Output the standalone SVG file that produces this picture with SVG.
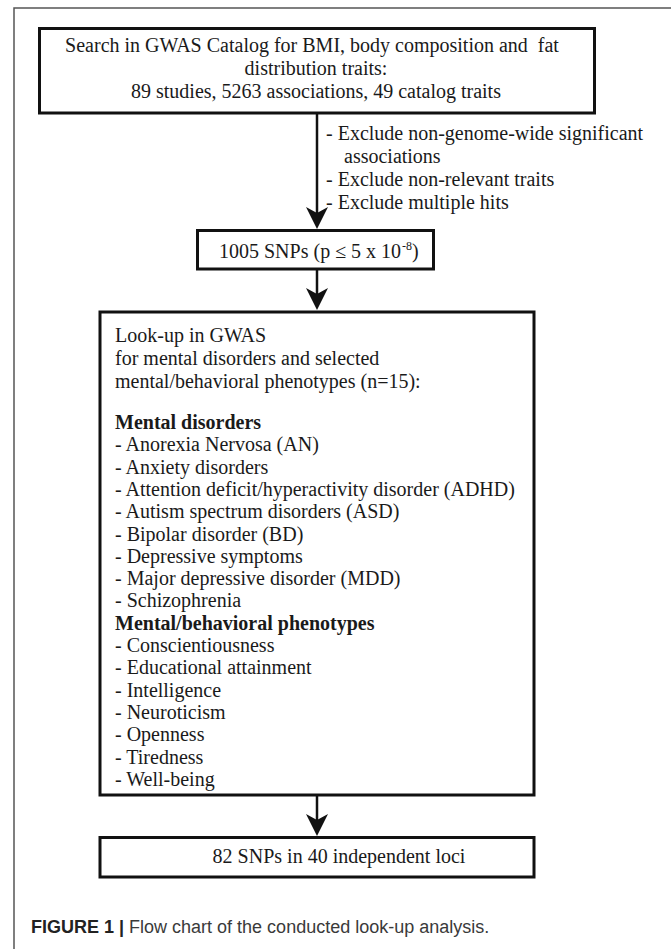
<svg xmlns="http://www.w3.org/2000/svg" width="671" height="949" viewBox="0 0 671 949">
<style>
.box{fill:#fff;stroke:#111;stroke-width:3}
.t{font-family:"Liberation Serif","Times New Roman",serif;font-size:20px;fill:#1a1a1a}
.sup{font-size:12px}
.c{text-anchor:middle}
.b{font-weight:bold}
.line{stroke:#111;stroke-width:2.5;fill:none}
.cap{font-family:"Liberation Sans",Arial,sans-serif;font-size:18px;fill:#3a3a3a}
</style>
<defs>
<path id="ah" d="M0,0 L-11,-22 L0,-16 L11,-22 Z" fill="#111"/>
</defs>
<rect x="0" y="0" width="671" height="949" fill="#fff"/>
<path d="M14,949 V8 H671" fill="none" stroke="#555" stroke-width="1.5"/>
<g id="connectors">
<line class="line" x1="317" y1="113" x2="317" y2="215"/>
<use href="#ah" x="317" y="229"/>
<line class="line" x1="317" y1="269" x2="317" y2="296"/>
<use href="#ah" x="317" y="310"/>
<line class="line" x1="317" y1="796" x2="317" y2="822"/>
<use href="#ah" x="317" y="836"/>
</g>
<g id="node-search">
<rect class="box" x="39.5" y="28.5" width="555" height="84.5"/>
<text class="t c" x="312" y="52" style="white-space:pre">Search in GWAS Catalog for BMI, body composition and  fat</text>
<text class="t c" x="316" y="75">distribution traits:</text>
<text class="t c" x="316" y="98">89 studies, 5263 associations, 49 catalog traits</text>
</g>
<g id="exclusions">
<text class="t" x="326" y="140">- Exclude non-genome-wide significant</text>
<text class="t" x="344" y="163">associations</text>
<text class="t" x="326" y="186">- Exclude non-relevant traits</text>
<text class="t" x="326" y="209">- Exclude multiple hits</text>
</g>
<g id="node-snps">
<rect class="box" x="197.5" y="230.5" width="236" height="38.5"/>
<text class="t" x="219" y="258">1005 SNPs (p ≤ 5 x 10<tspan class="sup" dx="1" dy="-8">-8</tspan><tspan dy="8">)</tspan></text>
</g>
<g id="node-lookup">
<rect class="box" x="100" y="312" width="434" height="483"/>
<text class="t" x="115" y="342">Look-up in GWAS</text>
<text class="t" x="115" y="365">for mental disorders and selected</text>
<text class="t" x="115" y="388">mental/behavioral phenotypes (n=15):</text>
<text class="t b" x="115" y="429">Mental disorders</text>
<text class="t" x="115" y="451.3">- Anorexia Nervosa (AN)</text>
<text class="t" x="115" y="473.6">- Anxiety disorders</text>
<text class="t" x="115" y="495.9">- Attention deficit/hyperactivity disorder (ADHD)</text>
<text class="t" x="115" y="518.2">- Autism spectrum disorders (ASD)</text>
<text class="t" x="115" y="540.5">- Bipolar disorder (BD)</text>
<text class="t" x="115" y="562.8">- Depressive symptoms</text>
<text class="t" x="115" y="585.1">- Major depressive disorder (MDD)</text>
<text class="t" x="115" y="607.4">- Schizophrenia</text>
<text class="t b" x="115" y="629.7">Mental/behavioral phenotypes</text>
<text class="t" x="115" y="652">- Conscientiousness</text>
<text class="t" x="115" y="674.3">- Educational attainment</text>
<text class="t" x="115" y="696.6">- Intelligence</text>
<text class="t" x="115" y="718.9">- Neuroticism</text>
<text class="t" x="115" y="741.2">- Openness</text>
<text class="t" x="115" y="763.5">- Tiredness</text>
<text class="t" x="115" y="785.8">- Well-being</text>
</g>
<g id="node-result">
<rect class="box" x="100" y="837.5" width="434" height="39.5"/>
<text class="t c" x="339" y="863">82 SNPs in 40 independent loci</text>
</g>
<text class="cap" x="31" y="933"><tspan font-weight="bold" fill="#222">FIGURE 1 | </tspan>Flow chart of the conducted look-up analysis.</text>
</svg>
